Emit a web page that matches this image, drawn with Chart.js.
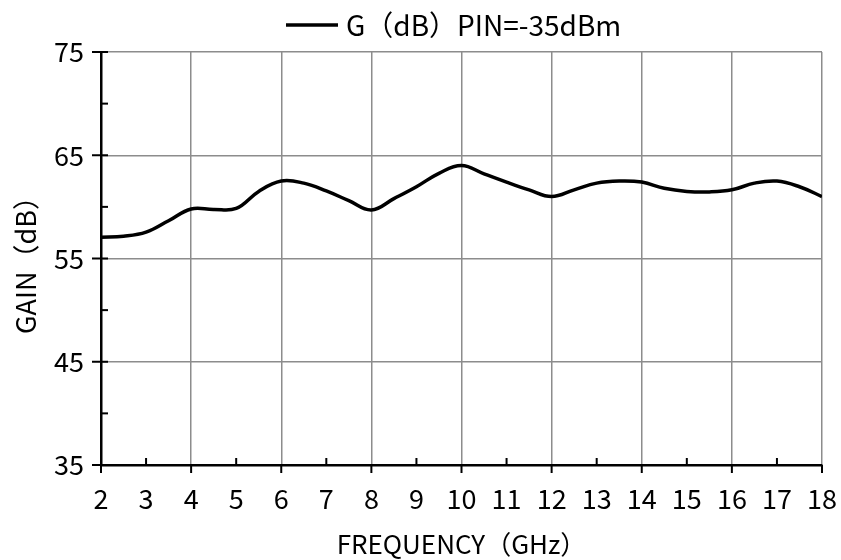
<!DOCTYPE html>
<html>
<head>
<meta charset="utf-8">
<script src="https://cdn.jsdelivr.net/npm/chart.js@4/dist/chart.umd.min.js"></script>
<style>
html,body{margin:0;padding:0;background:#fff;}
#wrap{width:841px;height:560px;}
</style>
</head>
<body>
<div id="wrap"><canvas id="c" width="841" height="560"></canvas></div>
<script>
// ---- data ----
const frequencyGHz = [2, 2.5, 3, 3.5, 4, 4.5, 5, 5.5, 6, 6.5, 7, 7.5, 8, 8.5, 9, 9.5, 10,
  10.5, 11, 11.5, 12, 12.5, 13, 13.5, 14, 14.5, 15, 15.5, 16, 16.5, 17, 17.5, 18];
const gainDb = [57.05, 57.15, 57.55, 58.65, 59.8, 59.75, 59.85, 61.5, 62.5, 62.3, 61.55, 60.6, 59.7,
  60.8, 61.95, 63.25, 64.0, 63.2, 62.4, 61.65, 61.0, 61.65, 62.3, 62.5, 62.4, 61.8, 61.5,
  61.45, 61.65, 62.3, 62.5, 61.95, 61.0];
const xTickValues = [2, 3, 4, 5, 6, 7, 8, 9, 10, 11, 12, 13, 14, 15, 16, 17, 18];
const yTickLabels = [35, 45, 55, 65, 75];
const seriesLabel = 'G（dB）PIN=-35dBm';
const xTitle = 'FREQUENCY（GHz）';
const yTitle = 'GAIN（dB）';

const FONT = "'Noto Sans CJK SC', 'Noto Sans', sans-serif";
const GRID = '#8c8c8c';

const points = frequencyGHz.map((f, i) => ({x: f, y: gainDb[i]}));

const decorations = {
  id: 'decorations',
  afterDraw(chart) {
    const {ctx, chartArea: a, scales: {x, y}} = chart;
    ctx.save();
    ctx.strokeStyle = '#000';
    ctx.lineWidth = 2;
    x.ticks.forEach(t => {
      const p = x.getPixelForValue(t.value);
      ctx.beginPath();
      if (t.value % 2 === 0) { ctx.moveTo(p, a.bottom); ctx.lineTo(p, a.bottom + 8); }
      else { ctx.moveTo(p, a.bottom); ctx.lineTo(p, a.bottom - 7); }
      ctx.stroke();
    });
    y.ticks.forEach(t => {
      const p = y.getPixelForValue(t.value);
      ctx.beginPath();
      if (yTickLabels.includes(t.value)) { ctx.moveTo(a.left - 9, p); ctx.lineTo(a.left + 7, p); }
      else { ctx.moveTo(a.left, p); ctx.lineTo(a.left + 7, p); }
      ctx.stroke();
    });
    // legend
    const ds = chart.data.datasets[0];
    const ly = 25, lx = 286;
    ctx.lineWidth = 3.5;
    ctx.beginPath(); ctx.moveTo(lx, ly); ctx.lineTo(lx + 52, ly); ctx.stroke();
    ctx.fillStyle = '#000';
    ctx.font = '28px ' + FONT;
    ctx.textBaseline = 'middle';
    ctx.textAlign = 'left';
    ctx.fillText(ds.label, lx + 60, ly);
    ctx.restore();
  }
};

new Chart(document.getElementById('c'), {
  type: 'line',
  data: {
    datasets: [{
      label: seriesLabel,
      data: points,
      borderColor: '#000',
      backgroundColor: '#000',
      borderWidth: 3.5,
      pointRadius: 0,
      tension: 0.4,
      fill: false
    }]
  },
  options: {
    responsive: false,
    animation: false,
    devicePixelRatio: 1,
    layout: {padding: {top: 52, right: 19, left: 0, bottom: 0}},
    plugins: {legend: {display: false}, tooltip: {enabled: false}},
    scales: {
      x: {
        type: 'linear', min: 2, max: 18,
        afterFit(s) { s.height = 95; s.paddingLeft = 0; s.paddingRight = 0; },
        afterBuildTicks(s) { s.ticks = xTickValues.map(v => ({value: v})); },
        ticks: {color: '#000', font: {family: FONT, size: 27}, padding: 18, maxRotation: 0, autoSkip: false},
        grid: {
          drawTicks: false,
          lineWidth: 1.5,
          color: c => (c.tick && c.tick.value % 2 === 0 && c.tick.value > 2) ? GRID : 'rgba(0,0,0,0)'
        },
        border: {color: '#000', width: 2.5},
        title: {display: true, text: xTitle, color: '#000', font: {family: FONT, size: 26}, padding: {top: 0, bottom: 0}}
      },
      y: {
        min: 35, max: 75,
        afterFit(s) { s.width = 101; s.paddingTop = 0; s.paddingBottom = 0; },
        ticks: {
          stepSize: 5, color: '#000', font: {family: FONT, size: 27}, padding: 17,
          callback: v => yTickLabels.includes(v) ? String(v) : ''
        },
        grid: {
          drawTicks: false,
          lineWidth: 1.5,
          color: c => (c.tick && yTickLabels.includes(c.tick.value) && c.tick.value > 35) ? GRID : 'rgba(0,0,0,0)'
        },
        border: {color: '#000', width: 2.5},
        title: {display: true, text: yTitle, color: '#000', font: {family: FONT, size: 27}, padding: {top: 10, bottom: 0}}
      }
    }
  },
  plugins: [decorations]
});
</script>
</body>
</html>
